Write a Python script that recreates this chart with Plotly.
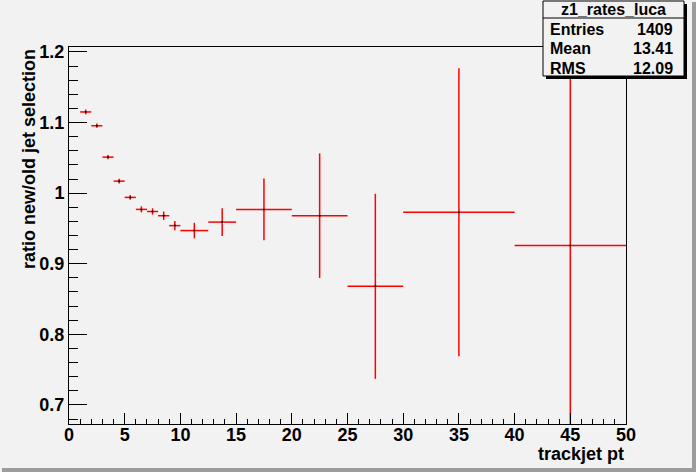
import plotly.graph_objects as go

# bin edges of the trackjet pt histogram and the ratio in each bin
bin_edges = [1, 2, 3, 4, 5, 6, 7, 8, 9, 10, 12.5, 15, 20, 25, 30, 40, 50]
ratio = [1.115, 1.0955, 1.051, 1.017, 0.994, 0.977, 0.974, 0.968, 0.954,
         0.947, 0.959, 0.977, 0.968, 0.868, 0.973, 0.926]
ratio_err = [0.0035, 0.003, 0.003, 0.0033, 0.0033, 0.0043, 0.0045, 0.006, 0.0066,
             0.011, 0.0196, 0.0437, 0.0883, 0.131, 0.204, 0.26]

stat_title = "z1_rates_luca"
stat_names = ["Entries", "Mean", "RMS"]
stat_values = ["1409", "13.41", "12.09"]

centers = [(a + b) / 2 for a, b in zip(bin_edges[:-1], bin_edges[1:])]
half_w = [(b - a) / 2 for a, b in zip(bin_edges[:-1], bin_edges[1:])]

W, H = 696, 472
L, R, T, B = 69, 626, 47, 424
bg = "#f2f2f2"
font = "Liberation Sans, Arial, sans-serif"


def px(x):
    return (x - L) / (R - L)


def py(y):
    return (B - y) / (B - T)


fig = go.Figure()
fig.add_trace(go.Scatter(
    x=centers, y=ratio, mode="markers",
    marker=dict(size=2, color="black"),
    error_x=dict(type="data", array=half_w, width=0, color="red", thickness=1.5),
    error_y=dict(type="data", array=ratio_err, width=0, color="red", thickness=1.5),
    showlegend=False, hoverinfo="x+y",
))

axis_common = dict(
    showgrid=False, zeroline=False, showline=True, linecolor="black", linewidth=1,
    mirror=True, ticks="inside", tickcolor="black", tickwidth=1,
    tickfont=dict(family=font, size=18, color="black", weight="bold"),
)
fig.update_xaxes(range=[0, 50], dtick=5, ticklen=11, ticklabelstandoff=-6,
                 minor=dict(dtick=1, ticklen=5, ticks="inside", tickcolor="black"),
                 **axis_common)
fig.update_yaxes(range=[0.673, 1.207], dtick=0.1, ticklen=18,
                 minor=dict(dtick=0.02, ticklen=9, ticks="inside", tickcolor="black"),
                 **axis_common)

shapes = []
# canvas bevel (bottom and right edges)
shapes.append(dict(type="rect", xref="paper", yref="paper", x0=px(2), x1=px(W),
                   y0=py(H), y1=py(H - 4), fillcolor="#9c9c9c", line_width=0, layer="above"))
shapes.append(dict(type="rect", xref="paper", yref="paper", x0=px(W - 4), x1=px(W),
                   y0=py(H), y1=py(2), fillcolor="#9c9c9c", line_width=0, layer="above"))
# stats box with shadow
bx0, bx1, by0, by1 = 543, 684, 1, 76
shapes.append(dict(type="rect", xref="paper", yref="paper", x0=px(bx0 + 3), x1=px(bx1 + 3),
                   y0=py(by1 + 3), y1=py(by0 + 3), fillcolor="black", line_width=0, layer="above"))
shapes.append(dict(type="rect", xref="paper", yref="paper", x0=px(bx0), x1=px(bx1),
                   y0=py(by1), y1=py(by0), fillcolor=bg, line=dict(color="black", width=1),
                   layer="above"))
shapes.append(dict(type="line", xref="paper", yref="paper", x0=px(bx0), x1=px(bx1),
                   y0=py(18), y1=py(18), line=dict(color="black", width=1), layer="above"))

annotations = [
    dict(text=stat_title, x=px((bx0 + bx1) / 2), y=py(10), xanchor="center", yanchor="middle"),
]
row_y = [30, 49, 68]
for name, val, yy in zip(stat_names, stat_values, row_y):
    annotations.append(dict(text=name, x=px(548), y=py(yy), xanchor="left", yanchor="middle"))
    annotations.append(dict(text=val, x=px(675), y=py(yy), xanchor="right", yanchor="middle"))
for a in annotations:
    a.update(xref="paper", yref="paper", showarrow=False,
             font=dict(family=font, size=16, color="black", weight="bold"))

annotations.append(dict(text="trackjet pt", x=1, y=py(454), xref="paper", yref="paper",
                        xanchor="right", yanchor="middle", showarrow=False,
                        font=dict(family=font, size=18, color="black", weight="bold")))
annotations.append(dict(text="ratio new/old jet selection", x=px(29), y=1, xref="paper",
                        yref="paper", xanchor="center", yanchor="top", textangle=-90,
                        showarrow=False,
                        font=dict(family=font, size=18, color="black", weight="bold")))

fig.update_layout(
    width=W, height=H, margin=dict(l=L, r=W - R, t=T, b=H - B),
    paper_bgcolor=bg, plot_bgcolor=bg, shapes=shapes, annotations=annotations,
)
# drop the page's default body margin so the figure sits at the window corner
fig.write_html("out.html", config={"displayModeBar": False},
               post_script="document.body.style.margin='0';")
